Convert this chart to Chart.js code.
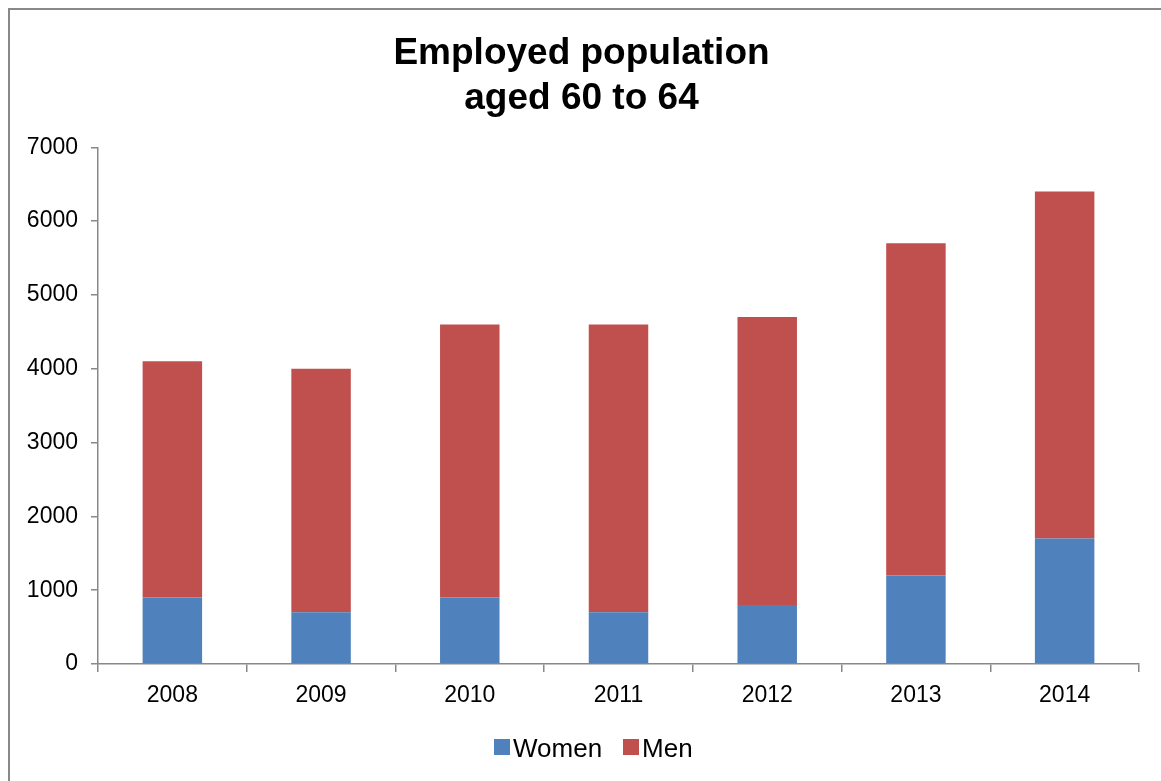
<!DOCTYPE html>
<html>
<head>
<meta charset="utf-8">
<script src="https://cdn.jsdelivr.net/npm/chart.js@4"></script>
<style>
  html, body { margin: 0; padding: 0; background: #fff; overflow: hidden; }
  #wrap { position: relative; width: 1161px; height: 781px; }
  #frame { position: absolute; left: 8px; top: 8px; width: 2000px; height: 2000px;
           border-left: 2px solid #888; border-top: 2px solid #888; }
  canvas { position: absolute; left: 0; top: 0; }
  #legend { position: absolute; left: 494px; top: 730px; display: flex; align-items: center;
            font: 26px Arial, "Liberation Sans", sans-serif; line-height: 36px; color: #000; }
  #legend .item { display: flex; align-items: center; margin-right: 21px; }
  #legend .box { width: 16px; height: 16px; margin-right: 3px; margin-top: -2px; }
</style>
</head>
<body>
<div id="wrap">
  <div id="frame"></div>
  <canvas id="chart" width="1161" height="781"></canvas>
  <div id="legend"></div>
</div>
<script>
const years = ['2008', '2009', '2010', '2011', '2012', '2013', '2014'];
const women = [900, 700, 900, 700, 800, 1200, 1700];
const men = [3200, 3300, 3700, 3900, 3900, 4500, 4700];

const font = 'Arial, "Liberation Sans", sans-serif';
const axisGray = '#888';

const chart = new Chart(document.getElementById('chart').getContext('2d'), {
  type: 'bar',
  data: {
    labels: years,
    datasets: [
      { label: 'Women', data: women, backgroundColor: '#4F81BD', stack: 's' },
      { label: 'Men', data: men, backgroundColor: '#C0504D', stack: 's' }
    ]
  },
  options: {
    responsive: false,
    animation: false,
    categoryPercentage: 1,
    barPercentage: 0.4,
    layout: { padding: { left: 24, right: 22, top: 0, bottom: 0 } },
    plugins: {
      title: {
        display: true,
        text: ['Employed population', 'aged 60 to 64'],
        color: '#000',
        font: { family: font, size: 37, weight: 'bold', lineHeight: 1.22 },
        padding: { top: 31, bottom: 26 }
      },
      legend: { display: false },
      tooltip: { enabled: false }
    },
    scales: {
      x: {
        stacked: true,
        offset: true,
        grid: { display: true, offset: true, drawOnChartArea: false, color: axisGray, tickLength: 8, lineWidth: 1.5 },
        border: { color: axisGray, width: 1.5 },
        ticks: { color: '#000', font: { family: font, size: 23 }, padding: 10 },
        afterFit: s => { s.height = 117; }
      },
      y: {
        stacked: true,
        min: 0,
        max: 7000,
        grid: { display: true, drawOnChartArea: false, color: axisGray, tickLength: 7, lineWidth: 1.5 },
        border: { color: axisGray, width: 1.5 },
        ticks: { color: '#000', font: { family: font, size: 23 }, stepSize: 1000, padding: 13,
                 callback: v => String(v) },
        afterFit: s => { s.width = 74; }
      }
    }
  }
});

// legend
const legend = document.getElementById('legend');
chart.data.datasets.forEach(ds => {
  const item = document.createElement('div');
  item.className = 'item';
  item.innerHTML = `<span class="box" style="background:${ds.backgroundColor}"></span><span>${ds.label}</span>`;
  legend.appendChild(item);
});
</script>
</body>
</html>
